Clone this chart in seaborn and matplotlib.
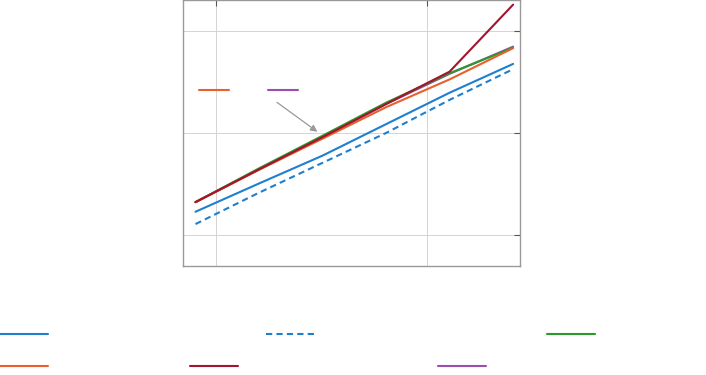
import numpy as np
import pandas as pd
import matplotlib
matplotlib.use('Agg')
import matplotlib.pyplot as plt
import seaborn as sns
from matplotlib.lines import Line2D

# problem sizes (x) and the six curves
sizes = [8, 16, 32, 64, 128, 256]
blue_solid = [1.69, 3.2, 6.0, 12.2, 24.8, 47.5]
blue_dashed = [1.28, 2.6, 5.1, 10.0, 21.1, 42.2]
green = [2.1, 4.5, 9.4, 19.8, 38.5, 68.6]
orange = [2.1, 4.35, 8.8, 17.9, 33.5, 67.8]
darkred = [2.1, 4.4, 9.1, 19.2, 39.9, 181.0]
purple = [2.1, 4.4, 9.1, 19.2, 38.0, 70.2]

series_names = ['s1', 's2', 's3', 's4', 's5', 's6']
series_values = [blue_solid, blue_dashed, green, orange, darkred, purple]
colors = {'s1': '#1f7fcf', 's2': '#1f7fcf', 's3': '#2a9a2a',
          's4': '#e8602c', 's5': '#a2142f', 's6': '#9b4db0'}
# draw order so the dark red ends up on top like the reference
draw_order = ['s6', 's3', 's4', 's1', 's2', 's5']

rows = []
for name, vals in zip(series_names, series_values):
    for x, y in zip(sizes, vals):
        rows.append((name, x, y))
df = pd.DataFrame(rows, columns=['series', 'size', 'value'])

sns.set_style('white')
fig = plt.figure(figsize=(7.06, 3.75), dpi=100)
ax = fig.add_axes([183 / 706, 1 - 266 / 375, 337 / 706, 266 / 375])

for name in draw_order:
    sns.lineplot(data=df[df.series == name], x='size', y='value',
                 color=colors[name], ax=ax, lw=1.5,
                 linestyle=(0, (3, 2)) if name == 's2' else '-', legend=False)

ax.set_xscale('log')
ax.set_yscale('log')
ax.set_xlim(6.98, 276)
ax.set_ylim(0.497, 201)
ax.set_xticks([10, 100])
ax.set_yticks([1, 10, 100])
ax.minorticks_off()
ax.set_xticklabels([])
ax.set_yticklabels([])
ax.set_xlabel('')
ax.set_ylabel('')
ax.grid(True, color='#d4d4d4', lw=0.7)
ax.tick_params(direction='in', length=4, color='#555555', top=True, right=True)
for sp in ax.spines.values():
    sp.set_color('#999999')
    sp.set_linewidth(1.0)

# inline label markers and arrow (their text is blank in the reference)
ax.plot([0.0475, 0.1365], [0.662, 0.662], color=colors['s4'], lw=1.5, transform=ax.transAxes)
ax.plot([0.252, 0.341], [0.662, 0.662], color=colors['s6'], lw=1.5, transform=ax.transAxes)
ax.annotate('', xy=(31, 9.9), xytext=(19, 20.7),
            arrowprops=dict(arrowstyle='-|>', color='#999999', lw=0.9, mutation_scale=10))

# legend below, entries laid out like the reference (labels blank)
legend_pos = {'s1': (0, 335), 's2': (266, 335), 's3': (547, 335),
              's4': (0, 367), 's5': (190, 367), 's6': (438, 367)}
for name in series_names:
    px, py = legend_pos[name]
    h = Line2D([], [], color=colors[name], lw=1.5,
               linestyle=(0, (3, 2)) if name == 's2' else '-')
    fig.legend([h], [''], loc='center left', bbox_to_anchor=(px / 706, 1 - py / 375),
               frameon=False, borderpad=0, borderaxespad=0, handletextpad=0,
               handlelength=48 / 13.9, fontsize=10)

fig.savefig('out.png', dpi=100)
